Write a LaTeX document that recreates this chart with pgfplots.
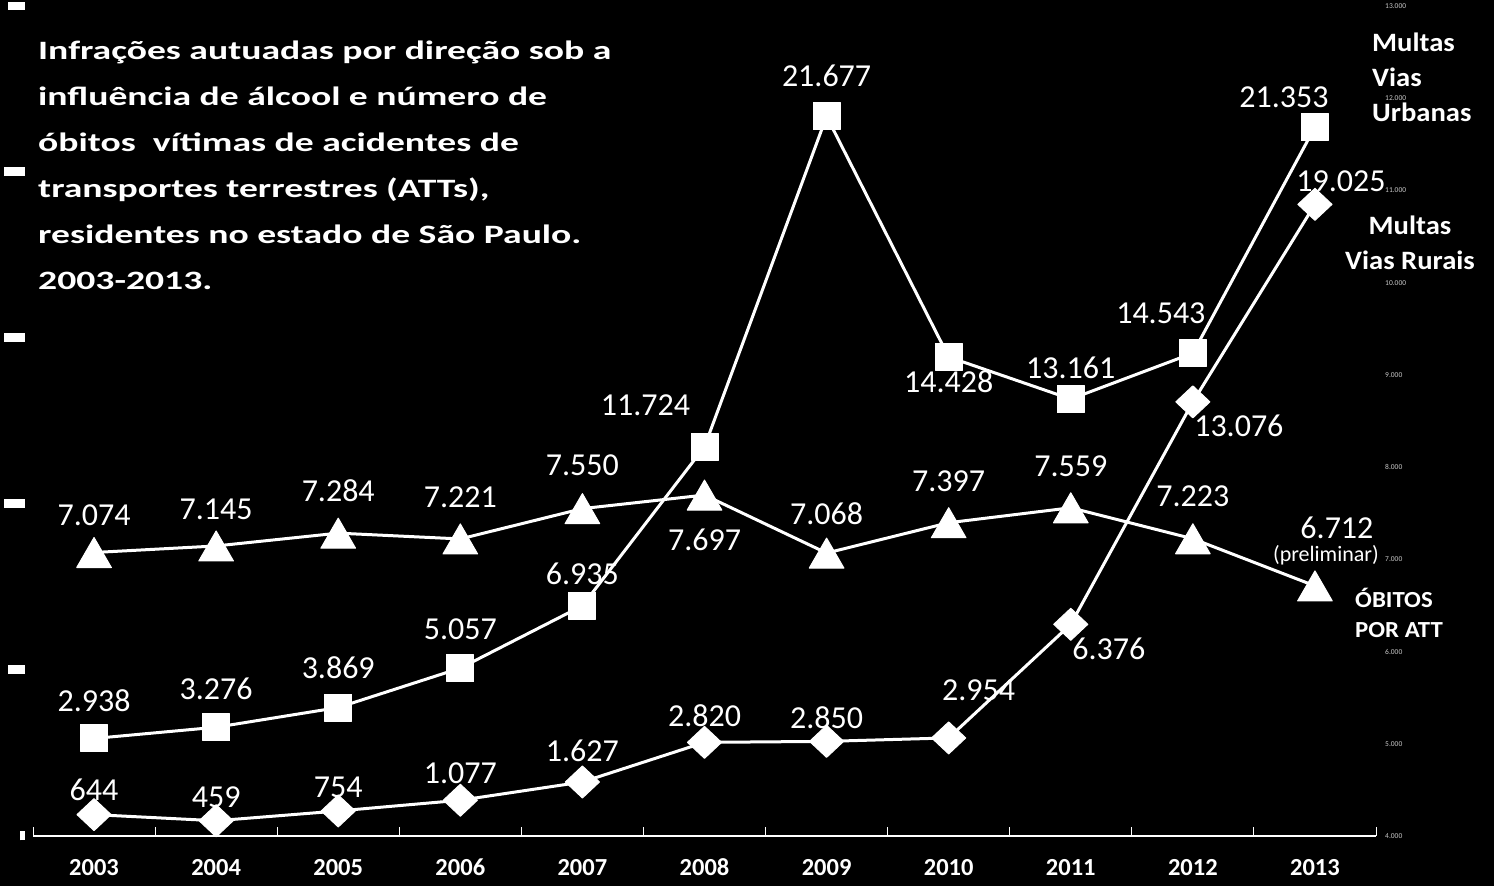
\documentclass[border=0pt]{standalone}
\usepackage{pgfplots}
\pgfplotsset{compat=1.18}
\usepackage{fontspec}
\setmainfont{Carlito}
\newfontfamily\titlefont{Carlito}[FakeStretch=1.42, BoldFeatures={FakeStretch=1.42}]
\newfontfamily\legfont{Carlito}[FakeStretch=1.08, BoldFeatures={FakeStretch=1.08}]
\definecolor{tickgray}{RGB}{200,200,200}
\tikzset{lab/.style={text=white, inner sep=0pt, anchor=center, font=\fontsize{32}{32}\selectfont},
  ttl/.style={text=white, inner sep=0pt, anchor=base west, font=\titlefont\bfseries\fontsize{26.5}{26.5}\selectfont},
  leg/.style={text=white, inner sep=0pt, font=\legfont\bfseries\fontsize{26.5}{26.5}\selectfont}}
\begin{document}
\begin{tikzpicture}[x=1pt,y=1pt]
\fill[black] (0,0) rectangle (1494,886);
\begin{axis}[
  at={(33pt,50pt)}, anchor=south west,
  scale only axis, width=1343pt, height=830pt,
  xmin=-0.5, xmax=10.5, ymin=0, ymax=25000,
  axis x line*=bottom, axis y line*=left,
  y axis line style={draw=none}, ytick style={draw=none},
  x axis line style={white, line width=1.2pt},
  xtick={0,...,10},
  xticklabels={2003,2004,2005,2006,2007,2008,2009,2010,2011,2012,2013},
  major x tick style={draw=none},
  minor xtick={-0.5,0.5,...,10.5},
  minor x tick style={white, line width=1pt},
  minor tick length=9pt, xtick align=inside,
  xticklabel style={font=\bfseries\fontsize{24.5}{24.5}\selectfont, text=white, anchor=base, inner sep=0pt, yshift=-40pt},
  ytick={0,5000,10000,15000,20000,25000},
  yticklabels={\rule[-4.5pt]{5pt}{9pt},\rule[-4.5pt]{17pt}{9pt},\rule[-4.5pt]{21pt}{9pt},\rule[-4.5pt]{21pt}{9pt},\rule[-4.5pt]{21pt}{9pt},\rule[-3pt]{17pt}{8pt}},
  yticklabel style={text=white, anchor=east, inner sep=0pt, xshift=-8pt},
  clip=false,
]
% Multas vias urbanas
\addplot[white, line width=3pt, line join=round, mark=square*, mark size=13.5pt, mark options={fill=white, line width=1pt, rounded corners=2pt}]
  coordinates {(0,2938) (1,3276) (2,3869) (3,5057) (4,6935) (5,11724) (6,21677) (7,14428) (8,13161) (9,14543) (10,21353)};
% Multas vias rurais
\addplot[white, line width=3pt, line join=round, mark=diamond*, mark size=16pt, mark options={fill=white, line width=1pt, xscale=1.42}]
  coordinates {(0,644) (1,459) (2,754) (3,1077) (4,1627) (5,2820) (6,2850) (7,2954) (8,6376) (9,13076) (10,19025)};
% labels squares
\node[lab, yshift=38pt] at (axis cs:0,2938) {2.938};
\node[lab, yshift=38pt] at (axis cs:1,3276) {3.276};
\node[lab, yshift=40pt] at (axis cs:2,3869) {3.869};
\node[lab, yshift=39pt] at (axis cs:3,5057) {5.057};
\node[lab, yshift=32pt] at (axis cs:4,6935) {6.935};
\node[lab, xshift=-59pt, yshift=42pt] at (axis cs:5,11724) {11.724};
\node[lab, yshift=40pt] at (axis cs:6,21677) {21.677};
\node[lab, yshift=-25pt] at (axis cs:7,14428) {14.428};
\node[lab, yshift=31pt] at (axis cs:8,13161) {13.161};
\node[lab, xshift=-32pt, yshift=40pt] at (axis cs:9,14543) {14.543};
\node[lab, xshift=-31pt, yshift=30pt] at (axis cs:10,21353) {21.353};
% labels diamonds
\node[lab, yshift=25pt] at (axis cs:0,644) {644};
\node[lab, yshift=24pt] at (axis cs:1,459) {459};
\node[lab, yshift=24pt] at (axis cs:2,754) {754};
\node[lab, yshift=27pt] at (axis cs:3,1077) {1.077};
\node[lab, yshift=31pt] at (axis cs:4,1627) {1.627};
\node[lab, yshift=27pt] at (axis cs:5,2820) {2.820};
\node[lab, yshift=24pt] at (axis cs:6,2850) {2.850};
\node[lab, xshift=30pt, yshift=48pt] at (axis cs:7,2954) {2.954};
\node[lab, xshift=38pt, yshift=-25pt] at (axis cs:8,6376) {6.376};
\node[lab, xshift=46pt, yshift=-24pt] at (axis cs:9,13076) {13.076};
\node[lab, xshift=26pt, yshift=23pt] at (axis cs:10,19025) {19.025};
\end{axis}
\begin{axis}[
  at={(33pt,50pt)}, anchor=south west,
  scale only axis, width=1343pt, height=830pt,
  xmin=-0.5, xmax=10.5, ymin=4000, ymax=13000,
  axis x line=none, axis y line*=right,
  y axis line style={draw=none}, ytick style={draw=none},
  ytick={4000,5000,6000,7000,8000,9000,10000,11000,12000,13000},
  yticklabels={4.000,5.000,6.000,7.000,8.000,9.000,10.000,11.000,12.000,13.000},
  yticklabel style={font=\fontsize{7.5}{7.5}\selectfont, text=tickgray, anchor=west, inner sep=0pt, xshift=9pt},
  clip=false,
]
\addplot[white, line width=3pt, line join=round, mark=triangle*, mark size=20pt, mark options={fill=white, line width=1pt, yshift=-5pt, rounded corners=2pt}]
  coordinates {(0,7074) (1,7145) (2,7284) (3,7221) (4,7550) (5,7697) (6,7068) (7,7397) (8,7559) (9,7223) (10,6712)};
\node[lab, yshift=37pt] at (axis cs:0,7074) {7.074};
\node[lab, yshift=37pt] at (axis cs:1,7145) {7.145};
\node[lab, yshift=42pt] at (axis cs:2,7284) {7.284};
\node[lab, yshift=42pt] at (axis cs:3,7221) {7.221};
\node[lab, yshift=43pt] at (axis cs:4,7550) {7.550};
\node[lab, yshift=-45pt] at (axis cs:5,7697) {7.697};
\node[lab, yshift=39pt] at (axis cs:6,7068) {7.068};
\node[lab, yshift=41pt] at (axis cs:7,7397) {7.397};
\node[lab, yshift=42pt] at (axis cs:8,7559) {7.559};
\node[lab, yshift=43pt] at (axis cs:9,7223) {7.223};
\node[lab, xshift=22pt, yshift=58pt] at (axis cs:10,6712) {6.712};
\node[lab, xshift=11pt, yshift=31pt, font=\fontsize{22}{22}\selectfont] at (axis cs:10,6712) {(preliminar)};
\end{axis}
% title
\node[ttl] at (38,826.5) {Infrações autuadas por direção sob a};
\node[ttl] at (38,780.5) {influência de álcool e número de};
\node[ttl] at (38,734.5) {óbitos\ \ vítimas de acidentes de};
\node[ttl] at (38,688.5) {transportes terrestres (ATTs),};
\node[ttl] at (38,642.5) {residentes no estado de São Paulo.};
\node[ttl] at (38,596.5) {2003-2013.};
% series names
\node[leg, anchor=base west] at (1372,834) {Multas};
\node[leg, anchor=base west] at (1372,799) {Vias};
\node[leg, anchor=base west] at (1372,764) {Urbanas};
\node[leg, anchor=base] at (1410,651) {Multas};
\node[leg, anchor=base] at (1410,616) {Vias Rurais};
\node[leg, anchor=base west, font=\legfont\bfseries\fontsize{23}{23}\selectfont] at (1355,278) {ÓBITOS};
\node[leg, anchor=base west, font=\legfont\bfseries\fontsize{23}{23}\selectfont] at (1355,248) {POR ATT};
\pgfresetboundingbox
\useasboundingbox (0,0) rectangle (1494,886);
\end{tikzpicture}
\end{document}
